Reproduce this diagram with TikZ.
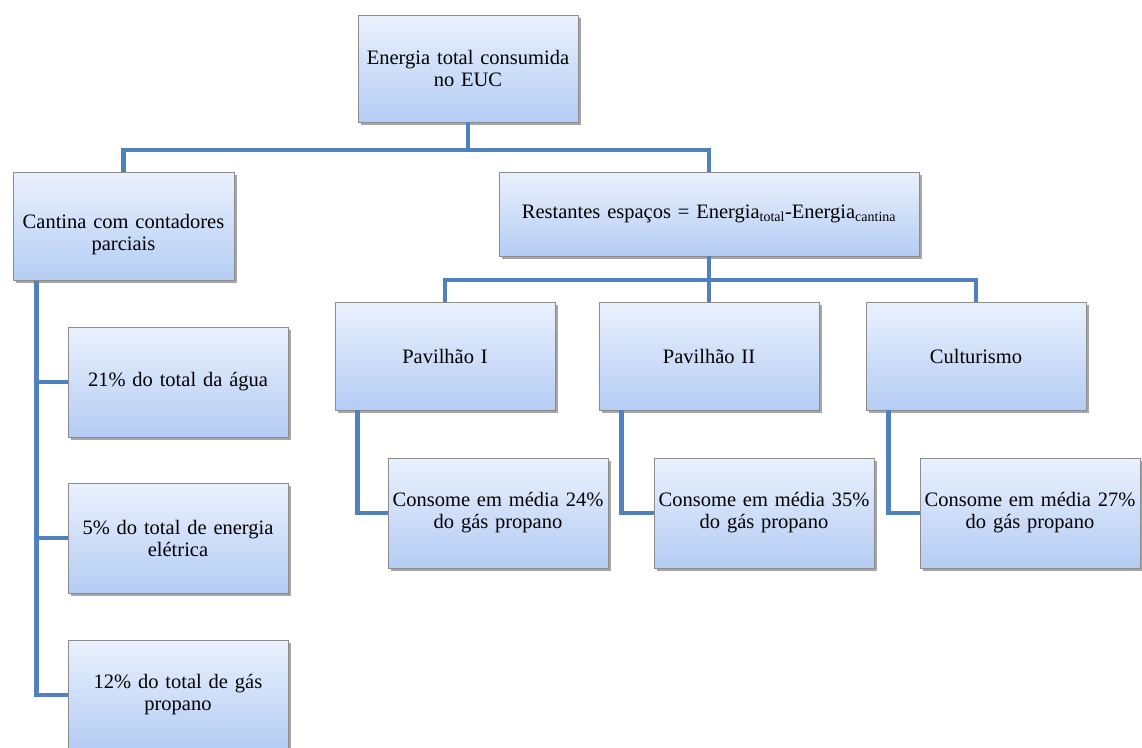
\documentclass[tikz,border=0pt]{standalone}
\usepackage{fontspec}
\setmainfont{Liberation Serif}
\usetikzlibrary{shadows}
\definecolor{conncol}{RGB}{79,129,189}
\definecolor{boxtop}{RGB}{234,241,253}
\definecolor{boxbot}{RGB}{180,204,244}
\definecolor{boxline}{RGB}{140,140,140}
\tikzset{
  txt/.style={inner sep=0pt, text width=219pt, align=center,
    font=\fontsize{20.5}{22}\selectfont},
  box/.style={txt, draw=boxline, line width=0.8pt, top color=boxtop, bottom color=boxbot,
    drop shadow={shadow xshift=2.5pt, shadow yshift=-2.5pt, fill=black, opacity=0.35},
    minimum width=220pt, minimum height=108pt},
  conn/.style={draw=conncol, line width=4.8pt, line join=miter}
}
\begin{document}
\begin{tikzpicture}[x=1pt,y=-1pt]
\useasboundingbox[fill=white] (0,0) rectangle (1142,747);
\node[box, minimum height=107pt] (top) at (468,68.5) {Energia total consumida\\no EUC};
\node[box, minimum width=221pt] (cant) at (123.5,226.5) {};
\node[txt] (canttxt) at ([yshift=-8pt]cant.center) {Cantina com contadores\\parciais};
\node[box, minimum width=420pt, minimum height=84pt, text width=412pt] (rest) at (709,214) {Restantes espa\c{c}os = Energia\textsubscript{\fontsize{14}{14}\selectfont total}-Energia\textsubscript{\fontsize{14}{14}\selectfont cantina}};
\node[box] (p1) at (445,356) {Pavilh\~ao I};
\node[box] (p2) at (709,356) {Pavilh\~ao II};
\node[box] (cult) at (976,356) {Culturismo};
\node[box, minimum height=110pt] (c1) at (498,513) {Consome em m\'edia 24\%\\do g\'as propano};
\node[box, minimum height=110pt] (c2) at (764,513) {Consome em m\'edia 35\%\\do g\'as propano};
\node[box, minimum height=110pt] (c3) at (1030,513) {Consome em m\'edia 27\%\\do g\'as propano};
\node[box, minimum height=110pt] (a1) at (178,382) {21\% do total da \'agua};
\node[box, minimum height=110pt] (a2) at (178,538) {5\% do total de energia\\el\'etrica};
\node[box, minimum height=110pt] (a3) at (178,695) {12\% do total de g\'as\\propano};
% connectors
\coordinate (j1) at (468,150);
\coordinate (j2) at (709,280);
\draw[conn] (top.south) -- (j1);
\draw[conn] (cant.north) |- (j1) -| (rest.north);
\draw[conn] (rest.south) -- (j2);
\draw[conn] (p1.north) |- (j2) -| (cult.north);
\draw[conn] (j2) -- (p2.north);
\coordinate (lv) at ([xshift=24pt]cant.south west);
\draw[conn] (lv) |- (a3.west);
\draw[conn] (lv |- a1.west) -- (a1.west);
\draw[conn] (lv |- a2.west) -- (a2.west);
\draw[conn] ([xshift=23pt]p1.south west) |- (c1.west);
\draw[conn] ([xshift=23pt]p2.south west) |- (c2.west);
\draw[conn] ([xshift=23pt]cult.south west) |- (c3.west);
\end{tikzpicture}
\end{document}
